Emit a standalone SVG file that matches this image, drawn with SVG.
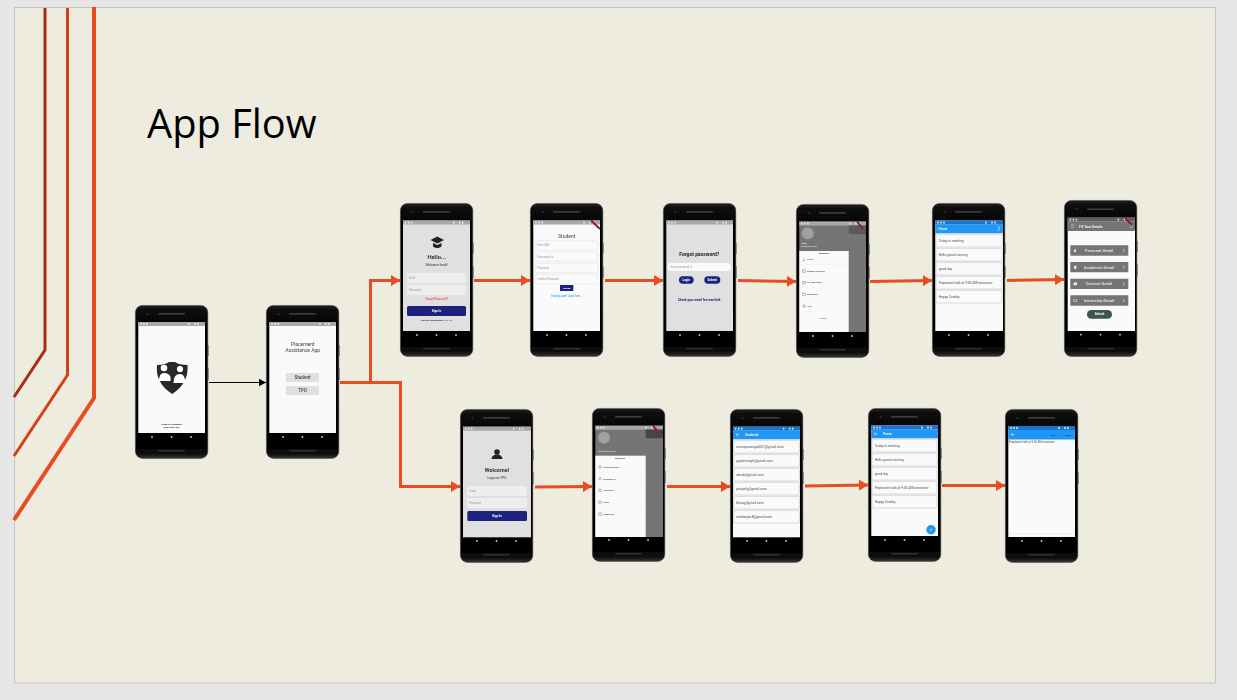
<svg xmlns="http://www.w3.org/2000/svg" width="1237" height="700" viewBox="0 0 1237 700">
<style>
text{font-family:Roboto,"Liberation Sans",Arial,sans-serif;fill:#333}
.c{text-anchor:middle}
.title{font-family:"Open Sans","Liberation Sans",sans-serif;font-size:39.800px;fill:#000}
.scr{fill:#fafafa}
.gry{fill:#e0e0e0}
.sb{fill:#a8a8a8}
.sbb{fill:#1976d2}
.ab{fill:#2196f3}
.abt{fill:#fff;font-size:3.400px;font-weight:500}
.field{fill:#eeeeee}
.ofield{fill:#fafafa;stroke:#e6e6e6;stroke-width:.7}
.ph{fill:#999;font-size:2.600px}
.navy{fill:#1a237e}
.wb{fill:#fff;font-size:3px;font-weight:700}
.card{fill:#fafafa;stroke:#d0d0d0;stroke-width:.8}
.ct{font-size:3.300px;fill:#555}
.item{font-size:2.200px;font-weight:500;fill:#444}
.ic{fill:none;stroke:#777;stroke-width:.5}
.dk{fill:#757575}
.det{fill:#e8e8e8;font-size:4.200px;font-weight:500}
.rib{stroke:#8f1f24;stroke-width:2;fill:none}
.conn{fill:none;stroke:#e84c22;stroke-width:3}
.soft{filter:url(#soft)}
</style>
<defs>
<filter id="soft" x="-5%" y="-5%" width="110%" height="110%"><feGaussianBlur stdDeviation="0.34"/></filter>
<linearGradient id="body" x1="0" y1="0" x2="0" y2="1">
<stop offset="0" stop-color="#222"/><stop offset=".04" stop-color="#070707"/><stop offset=".9" stop-color="#000"/><stop offset=".97" stop-color="#0c0c0c"/><stop offset="1" stop-color="#383838"/>
</linearGradient>
<marker id="oa" markerUnits="userSpaceOnUse" markerWidth="10" markerHeight="11" refX="9" refY="5.500" orient="auto"><path d="M0 0L9 5.500L0 11z" fill="#e84c22"/></marker>
<marker id="ba" markerUnits="userSpaceOnUse" markerWidth="8" markerHeight="8" refX="7.500" refY="4" orient="auto"><path d="M0 0L7.500 4L0 8z" fill="#000"/></marker>
<g id="frame">
<rect x="72.800" y="40" width=".9" height="11" fill="#777"/><rect x="72.800" y="63" width=".9" height="12" fill="#777"/>
<rect x=".4" y=".4" width="72.400" height="153" rx="7" fill="url(#body)" stroke="#444" stroke-width=".5"/>
<rect x="23" y="8" width="27" height="1.800" rx=".9" fill="#3a3a3a"/><circle cx="12.500" cy="9" r="1.100" fill="#2a2a3a"/>
<circle cx="17" cy="132" r=".9" fill="#ccc"/><circle cx="36.500" cy="132" r=".9" fill="#ccc"/><circle cx="56" cy="132" r=".9" fill="#ccc"/>
<rect x="23" y="145" width="27" height="1.400" rx=".7" fill="#333"/>
</g>
<path id="dots" d="M2 -.9h1.400v1.800h-1.400zM5 -.9h1.400v1.800h-1.400zM8 -.9h1.400v1.800h-1.400zM50 -.9h1.400v1.800h-1.400zM56 -.9h1.400v1.800h-1.400zM59 -.9h1.400v1.800h-1.400z" fill="#eee"/>
<g id="arrowback"><path d="M-1.500 0H1.500M-1.500 0L0 -1.300M-1.500 0L0 1.300" stroke="#fff" stroke-width=".5" fill="none"/></g>
<path id="chev" d="M-.8 -1.500L.8 0L-.8 1.500" fill="none" stroke="#eee" stroke-width=".6"/>
</defs>

<rect width="1237" height="700" fill="#e6e6e6"/>
<rect x="14.500" y="7.500" width="1201" height="675.500" fill="#eeebdf" stroke="#c4c4c4"/>
<text class="title" x="147" y="138">App Flow</text>

<g id="connectors">
<polyline points="45,8 45,350 14,397" fill="none" stroke="#a5300f" stroke-width="3"/>
<polyline points="67.500,8 67.500,375 14,456" fill="none" stroke="#d34117" stroke-width="3"/>
<polyline points="94,7 94,398 14,520" fill="none" stroke="#e84c22" stroke-width="4"/>
<line x1="209" y1="382.500" x2="266" y2="382.500" stroke="#000" stroke-width="1" marker-end="url(#ba)"/>
<polyline class="conn" points="340,382.500 370.500,382.500 370.500,280.500 400,280.500" marker-end="url(#oa)"/>
<polyline class="conn" points="340,382.500 400.500,382.500 400.500,486.500 460,486.500" marker-end="url(#oa)"/>
<line class="conn" x1="474" y1="280.500" x2="530" y2="280.500" marker-end="url(#oa)"/>
<line class="conn" x1="605" y1="280.500" x2="663" y2="280.500" marker-end="url(#oa)"/>
<line class="conn" x1="738" y1="280.500" x2="796" y2="281.500" marker-end="url(#oa)"/>
<line class="conn" x1="870" y1="281.500" x2="932" y2="280.500" marker-end="url(#oa)"/>
<line class="conn" x1="1007" y1="280.500" x2="1064" y2="279.500" marker-end="url(#oa)"/>
<line class="conn" x1="535" y1="487" x2="592" y2="486.500" marker-end="url(#oa)"/>
<line class="conn" x1="667" y1="486.500" x2="730" y2="486.500" marker-end="url(#oa)"/>
<line class="conn" x1="805" y1="486" x2="868" y2="485" marker-end="url(#oa)"/>
<line class="conn" x1="942" y1="485.500" x2="1005" y2="485.500" marker-end="url(#oa)"/>
</g>

<g id="splash" transform="translate(135 305)" class="soft">
<use href="#frame"/>
<rect class="scr" x="3.300" y="17" width="66.700" height="111"/><rect class="sb" x="3.300" y="17" width="66.700" height="4"/><use href="#dots" x="3.300" y="19"/>
<path d="M22 60Q30 60 34 57H40Q44 60 52.500 60Q54 78 37.200 89Q20 78 22 60Z" fill="#2b2b2b"/>
<circle cx="29" cy="63" r="3.300" fill="#fff"/><circle cx="45" cy="64" r="3.100" fill="#fff"/>
<path d="M24 76Q24 68 29 68Q34 68 35.500 72V76Z M38.500 78Q38.500 69 45 69Q50 69 50.500 78Z" fill="#fff"/>
<text class="c" x="36.700" y="120.200" style="font-size:2.200px;font-weight:700;fill:#222">SMART PLACEMENT</text>
<text class="c" x="36.700" y="123.400" style="font-size:2.200px;font-weight:700;fill:#222">ASSISTANT APP</text>
</g>

<g id="role" transform="translate(266 305)" class="soft">
<use href="#frame"/>
<rect class="scr" x="3.300" y="17" width="66.700" height="111"/><rect class="sb" x="3.300" y="17" width="66.700" height="4"/><use href="#dots" x="3.300" y="19"/>
<text class="c" x="36.700" y="40.500" style="font-size:5px;fill:#444">Placement</text>
<text class="c" x="36.700" y="46.800" style="font-size:5px;fill:#444">Assistance App</text>
<rect class="gry" x="20" y="68" width="33" height="9"/><text class="c" x="36.500" y="74.300" style="font-size:4.600px;font-weight:500;fill:#444">Student</text>
<rect class="gry" x="20" y="81" width="33" height="9"/><text class="c" x="36.500" y="87.300" style="font-size:4.600px;font-weight:500;fill:#444">TPO</text>
</g>

<g id="login" transform="translate(400 203)" class="soft">
<use href="#frame"/>
<rect class="gry" x="3" y="17.500" width="67" height="110.500"/><rect class="sb" x="3" y="17.500" width="67" height="4"/><use href="#dots" x="3" y="19.500"/>
<path d="M30.500 37L37.300 33.500L44 37L37.300 40.500Z M33 40V43.500Q37.300 46.500 41.500 43.500V40L37.300 42Z" fill="#222"/>
<text class="c" x="36.700" y="55.800" style="font-size:5.800px;font-weight:700">Hello...</text>
<text class="c" x="36.700" y="63.200" style="font-size:3.300px">Welcome back!</text>
<rect class="field" x="7" y="70" width="59" height="10" rx="2"/><text class="ph" x="9" y="75.800">Email</text>
<rect class="field" x="7" y="82" width="59" height="10" rx="2"/><text class="ph" x="9" y="87.800">Password</text>
<text class="c" x="36.700" y="97" style="font-size:2.800px;fill:#e53935">Forgot Password?</text>
<rect class="navy" x="7" y="103" width="59" height="10" rx="1.500"/><text class="c wb" x="36.500" y="109">Sign In</text>
<text class="c" x="36.700" y="118" style="font-size:2.500px;font-weight:700;fill:#222">Not yet registered? <tspan fill="#2196f3">Sign Up</tspan></text>
</g>

<g id="signup" transform="translate(530 203)" class="soft">
<use href="#frame"/>
<rect class="scr" x="3.300" y="17.500" width="66.700" height="110.500"/><rect class="sb" x="3.300" y="17.500" width="66.700" height="4"/><use href="#dots" x="3.300" y="19.500"/>
<text class="c" x="36.700" y="34.500" style="font-size:5px;fill:#444">Student</text>
<rect class="ofield" x="5.700" y="37.700" width="62" height="9.300" rx="1"/><text class="ph" x="7.500" y="43.300">Enter USN</text>
<rect class="ofield" x="5.700" y="49" width="62" height="9.300" rx="1"/><text class="ph" x="7.500" y="54.600">Enter email id</text>
<rect class="ofield" x="5.700" y="60.300" width="62" height="9.300" rx="1"/><text class="ph" x="7.500" y="65.900">Password</text>
<rect class="ofield" x="5.700" y="71.300" width="62" height="9.700" rx="1"/><text class="ph" x="7.500" y="77">Confirm Password</text>
<rect class="navy" x="30" y="82" width="13.300" height="6"/><text class="c" x="36.700" y="85.900" style="font-size:2.400px;fill:#fff;font-weight:700">Signup</text>
<text class="c" x="36.700" y="93.700" style="font-size:2.600px;fill:#2196f3">Existing user? Login here...</text>
<line class="rib" x1="61" y1="17.500" x2="70" y2="26"/>
</g>

<g id="forgot" transform="translate(663 203)" class="soft">
<use href="#frame"/>
<rect class="gry" x="3.300" y="17.500" width="66.700" height="110.500"/><rect class="sb" x="3.300" y="17.500" width="66.700" height="4"/><use href="#dots" x="3.300" y="19.500"/>
<text class="c" x="36.300" y="52.500" style="font-size:5px;font-weight:700;fill:#222">Forgot password?</text>
<rect x="4.700" y="60" width="63.300" height="8" rx="3.500" fill="#fafafa"/><text class="ph" x="7.500" y="64.900">Enter your email id</text>
<rect class="navy" x="16" y="73.300" width="14.700" height="7.400" rx="3.700"/><text class="c wb" x="23.300" y="78.100">Login</text>
<rect class="navy" x="41.300" y="73.300" width="16" height="7.400" rx="3.700"/><text class="c wb" x="49.300" y="78.100">Submit</text>
<text class="c" x="36.300" y="97.500" style="font-size:3.100px;font-weight:700;fill:#1a237e">Check your email for reset link</text>
</g>

<g id="student-drawer" transform="translate(796 204)" class="soft">
<use href="#frame"/>
<rect class="dk" x="3.300" y="17.500" width="66.700" height="110.500"/><rect class="sb" x="3.300" y="17.500" width="66.700" height="4"/><use href="#dots" x="3.300" y="19.500"/>
<rect x="52.700" y="21.500" width="17.300" height="8.700" fill="#5a5a5a"/>
<circle cx="11.700" cy="29.300" r="6" fill="#a0a0a0"/>
<text x="5" y="39.700" style="font-size:2.200px;font-weight:700;fill:#eee">Name</text><text x="5" y="43" style="font-size:2.200px;fill:#eee">abc@gmail.com</text>
<rect x="3.300" y="47" width="49.400" height="81" fill="#fafafa"/>
<text class="c" x="28" y="50.300" style="font-size:2.400px;font-weight:700;fill:#333">Welcome</text>
<g class="ic"><path d="M6.500 56.500h3M8 53.800v2"/><rect x="6.800" y="65.800" width="2.400" height="2.400"/><rect x="6.800" y="77.500" width="2.400" height="2.400"/><rect x="6.800" y="89.100" width="2.400" height="2.400"/><circle cx="8" cy="102" r="1.300"/></g>
<path d="M3.300 60.700H52.700M3.300 72.500H52.700M3.300 84H52.700M3.300 96H52.700M3.300 107.500H52.700" stroke="#eee" stroke-width=".4"/>
<text class="item" x="11" y="56">Profile</text><text class="item" x="11" y="67.700">Change Password</text><text class="item" x="11" y="79.400">Fill Application</text><text class="item" x="11" y="91">Dashboard</text><text class="item" x="11" y="102.700">Help</text>
<text class="c" x="27" y="114.500" style="font-size:2.200px;fill:#666">Logout</text>
<line class="rib" x1="61" y1="17.500" x2="67" y2="25"/>
</g>

<g id="home" transform="translate(932 203)" class="soft">
<use href="#frame"/>
<rect class="scr" x="3.300" y="17.500" width="67.700" height="110.500"/><rect class="sbb" x="3.300" y="17.500" width="67.700" height="4"/><use href="#dots" x="3.300" y="19.500"/><rect class="ab" x="3.300" y="21.300" width="67.700" height="9"/>
<text class="abt" x="6.300" y="27">Home</text><path d="M65 24h2.500v3H65" fill="none" stroke="#dff" stroke-width=".5"/>
<rect class="card" x="4" y="31.300" width="66" height="12.700" rx=".5"/><text class="ct" x="6.700" y="39">Today is meeting</text>
<rect class="card" x="4" y="45.300" width="66" height="12.700" rx=".5"/><text class="ct" x="6.700" y="53">Hello good morning</text>
<rect class="card" x="4" y="59.300" width="66" height="12.700" rx=".5"/><text class="ct" x="6.700" y="67">good day</text>
<rect class="card" x="4" y="73.300" width="66" height="12.700" rx=".5"/><text class="ct" x="6.700" y="81">Preplacent talk at 9:00 AM tomorrow</text>
<rect class="card" x="4" y="87.300" width="66" height="12.700" rx=".5"/><text class="ct" x="6.700" y="95">Happy Sunday</text>
</g>

<g id="details" transform="translate(1064 200)" class="soft">
<use href="#frame" transform="scale(1 1.020)"/>
<rect class="scr" x="3.700" y="17.700" width="67.300" height="113.300"/><rect x="3.700" y="17.700" width="67.300" height="4" fill="#616161"/><use href="#dots" x="3.700" y="19.700"/><rect class="dk" x="3.700" y="21.700" width="67.300" height="9.300"/>
<path d="M7 24.500h3M7 26h3M7 27.500h3" stroke="#ddd" stroke-width=".4"/><text class="abt" x="15" y="27.500">Fill Your Details</text><path d="M65.500 24.500h2.500v3h-2.500" fill="none" stroke="#ddd" stroke-width=".5"/>
<rect class="dk" x="6.300" y="45.300" width="58" height="10.400" rx=".6"/><text class="c det" x="35" y="52">Personal Detail</text><use href="#chev" x="59.700" y="50.500"/><rect x="10" y="49.500" width="2" height="2.500" fill="#eee"/>
<rect class="dk" x="6.300" y="62" width="58" height="10.300" rx=".6"/><text class="c det" x="35" y="68.700">Academic Detail</text><use href="#chev" x="59.700" y="67.200"/><rect x="10" y="65.800" width="2.400" height="3" fill="#eee"/>
<rect class="dk" x="6.300" y="78.700" width="58" height="10.300" rx=".6"/><text class="c det" x="35" y="85.400">Contact Detail</text><use href="#chev" x="59.700" y="83.800"/><rect x="9.500" y="82.500" width="3.500" height="2.700" fill="#eee"/>
<rect class="dk" x="6.300" y="95.300" width="58" height="10.400" rx=".6"/><text class="c det" x="35" y="102">Internship Detail</text><use href="#chev" x="59.700" y="100.500"/><rect x="9.800" y="99.300" width="3" height="2.500" fill="none" stroke="#eee" stroke-width=".4"/>
<rect x="23" y="110" width="25" height="8.700" rx="4.300" fill="#3c5651"/><text class="c wb" x="35.500" y="115.300">Submit</text>
<line class="rib" x1="61" y1="17.700" x2="68" y2="25"/>
</g>

<g id="tpo-login" transform="translate(460 409)" class="soft">
<use href="#frame"/>
<rect class="gry" x="3" y="17.700" width="68" height="110.600"/><rect class="sb" x="3" y="17.700" width="68" height="4"/><use href="#dots" x="3" y="19.700"/>
<circle cx="37" cy="43" r="2.800" fill="#222"/><path d="M31.500 50Q32 45.500 37 45.500Q42 45.500 42.500 50Z" fill="#222"/>
<text class="c" x="37" y="63" style="font-size:5.500px;font-weight:700">Welcome!</text>
<text class="c" x="37" y="69.800" style="font-size:3.200px">Login as TPO</text>
<rect class="field" x="7.300" y="77" width="59.700" height="10" rx="2"/><text class="ph" x="9.500" y="82.800">Email</text>
<rect class="field" x="7.300" y="89" width="59.700" height="10" rx="2"/><text class="ph" x="9.500" y="94.800">Password</text>
<rect class="navy" x="7.300" y="102" width="59.700" height="10" rx="1.500"/><text class="c wb" x="37" y="108">Sign In</text>
</g>

<g id="tpo-drawer" transform="translate(592 408)" class="soft">
<use href="#frame"/>
<rect class="dk" x="3.300" y="17.700" width="67.700" height="111.300"/><rect class="sb" x="3.300" y="17.700" width="67.700" height="4"/><use href="#dots" x="3.300" y="19.700"/>
<rect x="53.700" y="21.500" width="17.300" height="8.700" fill="#444"/>
<circle cx="12" cy="29.700" r="6" fill="#a0a0a0"/>
<text x="6" y="44" style="font-size:2.400px;fill:#eee">abc@gmail.com</text>
<rect x="3.300" y="47.700" width="50.400" height="81.300" fill="#fafafa"/>
<text class="c" x="28" y="51" style="font-size:2.400px;font-weight:700;fill:#333">Welcome</text>
<g class="ic"><circle cx="8" cy="59" r="1.300"/><circle cx="8" cy="70.700" r="1.300"/><rect x="6.800" y="81.100" width="2.400" height="2.400"/><rect x="6.800" y="93.100" width="2.400" height="2.400"/><rect x="6.800" y="104.800" width="2.400" height="2.400"/></g>
<path d="M3.300 64.500H53.700M3.300 76.500H53.700M3.300 88H53.700M3.300 100H53.700" stroke="#eee" stroke-width=".4"/>
<text class="item" x="11.300" y="59.800">Reset Password</text><text class="item" x="11.300" y="71.500">Students list</text><text class="item" x="11.300" y="83.100">Add Notice</text><text class="item" x="11.300" y="95.100">Notify</text><text class="item" x="11.300" y="106.800">Dashboard</text>
<line class="rib" x1="61" y1="17.700" x2="67" y2="25"/>
</g>

<g id="students" transform="translate(730 409)" class="soft">
<use href="#frame"/>
<rect class="scr" x="3" y="17.700" width="67" height="110.600"/><rect class="sbb" x="3" y="17.700" width="67" height="4"/><use href="#dots" x="3" y="19.700"/><rect class="ab" x="3" y="21.300" width="67" height="9"/>
<use href="#arrowback" x="7.700" y="25.800"/><text class="abt" x="15" y="27">Students</text>
<rect class="card" x="3.700" y="31.300" width="65.600" height="12.700" rx=".5"/><text class="ct" x="6.300" y="39">soumyawanga6057@gmail.com</text>
<rect class="card" x="3.700" y="45.300" width="65.600" height="12.700" rx=".5"/><text class="ct" x="6.300" y="53">gayatrisingh@gmail.com</text>
<rect class="card" x="3.700" y="59.300" width="65.600" height="12.700" rx=".5"/><text class="ct" x="6.300" y="67">abcde@gmail.com</text>
<rect class="card" x="3.700" y="73.300" width="65.600" height="12.700" rx=".5"/><text class="ct" x="6.300" y="81">poojarlg@gmail.com</text>
<rect class="card" x="3.700" y="87.300" width="65.600" height="12.700" rx=".5"/><text class="ct" x="6.300" y="95">bhavg@gmail.com</text>
<rect class="card" x="3.700" y="101.300" width="65.600" height="12.700" rx=".5"/><text class="ct" x="6.300" y="109">anbhargav8@gmail.com</text>
</g>

<g id="posts" transform="translate(868 408)" class="soft">
<use href="#frame"/>
<rect class="scr" x="3.300" y="17.500" width="66.700" height="110.500"/><rect class="sbb" x="3.300" y="17.500" width="66.700" height="4"/><use href="#dots" x="3.300" y="19.500"/><rect class="ab" x="3.300" y="21.300" width="66.700" height="9"/>
<use href="#arrowback" x="7.700" y="25.800"/><text class="abt" x="15" y="27">Posts</text>
<rect class="card" x="4" y="31.300" width="65" height="12.700" rx=".5"/><text class="ct" x="6.700" y="39">Today is meeting</text>
<rect class="card" x="4" y="45.300" width="65" height="12.700" rx=".5"/><text class="ct" x="6.700" y="53">Hello good morning</text>
<rect class="card" x="4" y="59.300" width="65" height="12.700" rx=".5"/><text class="ct" x="6.700" y="67">good day</text>
<rect class="card" x="4" y="73.300" width="65" height="12.700" rx=".5"/><text class="ct" x="6.700" y="81">Preplacent talk at 9:00 AM tomorrow</text>
<rect class="card" x="4" y="87.300" width="65" height="12.700" rx=".5"/><text class="ct" x="6.700" y="95">Happy Sunday</text>
<circle cx="63" cy="121.700" r="4.700" fill="#2196f3"/><path d="M61.800 121.700h2.400M63 120.500v2.400" stroke="#fff" stroke-width=".5"/>
</g>

<g id="post-detail" transform="translate(1005 409)" class="soft">
<use href="#frame"/>
<rect class="scr" x="3.300" y="17" width="66.700" height="111"/><rect class="sbb" x="3.300" y="17" width="66.700" height="4"/><use href="#dots" x="3.300" y="19"/><rect class="ab" x="3.300" y="21" width="66.700" height="9.500"/>
<use href="#arrowback" x="7.700" y="25.500"/>
<text class="c" x="48" y="26.700" style="font-size:2.400px;fill:#124">Edit</text><text class="c" x="63" y="26.700" style="font-size:2.400px;fill:#124">Delete</text>
<text x="4" y="33.700" style="font-size:2.800px;fill:#555">Preplacent talk at 9:00 AM tomorrow</text>
<line x1="3.300" y1="125" x2="70" y2="125" stroke="#ddd" stroke-width=".5"/>
</g>
</svg>
